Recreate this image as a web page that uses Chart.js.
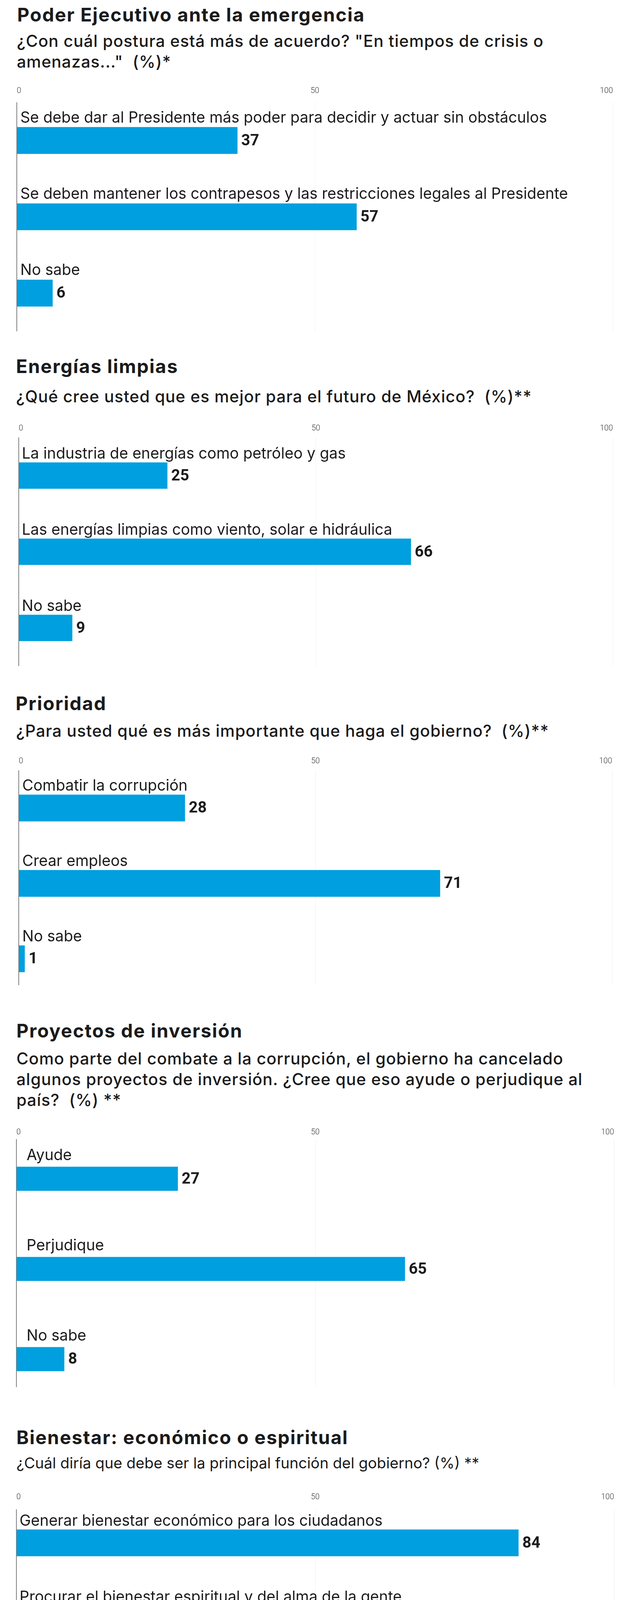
<!DOCTYPE html>
<html lang="es">
<head>
<meta charset="utf-8">
<title>Encuesta</title>
<script src="https://cdn.jsdelivr.net/npm/chart.js@4.4.1/dist/chart.umd.min.js"></script>
<style>
  body { margin: 0; background: #fff; width: 1600px; height: 4519px; position: relative; overflow: hidden; font-family: Inter, sans-serif; color: #1b1b1b; }
  .titulo { position: absolute; margin: 0; font-weight: 700; font-size: 48px; line-height: 48px; letter-spacing: 2px; white-space: nowrap; }
  .pregunta { position: absolute; margin: 0; font-weight: 500; font-size: 42px; line-height: 53px; letter-spacing: 1px; white-space: nowrap; }
  .pregunta.ligera { font-weight: 400; font-size: 38.5px; letter-spacing: 0; }
  canvas { position: absolute; left: 0; }
</style>
</head>
<body>

<h2 class="titulo" style="top:14px;left:44px">Poder Ejecutivo ante la emergencia</h2>
<p class="pregunta" style="top:78px;left:43px">¿Con cuál postura está más de acuerdo? "En tiempos de crisis o<br>amenazas..."&nbsp; (%)*</p>
<canvas id="chartPoder"></canvas>

<h2 class="titulo" style="top:914px;left:41px">Energías limpias</h2>
<p class="pregunta" style="top:988px;left:41px">¿Qué cree usted que es mejor para el futuro de México?&nbsp; (%)**</p>
<canvas id="chartEnergia"></canvas>

<h2 class="titulo" style="top:1777px;left:40px">Prioridad</h2>
<p class="pregunta" style="top:1844px;left:41px">¿Para usted qué es más importante que haga el gobierno?&nbsp; (%)**</p>
<canvas id="chartPrioridad"></canvas>

<h2 class="titulo" style="top:2615px;left:42px">Proyectos de inversión</h2>
<p class="pregunta" style="top:2683px;left:42px">Como parte del combate a la corrupción, el gobierno ha cancelado<br>algunos proyectos de inversión. ¿Cree que eso ayude o perjudique al<br>país?&nbsp; (%) **</p>
<canvas id="chartProyectos"></canvas>

<h2 class="titulo" style="top:3656px;left:42px">Bienestar: económico o espiritual</h2>
<p class="pregunta ligera" style="top:3719px;left:42px">¿Cuál diría que debe ser la principal función del gobierno? (%) **</p>
<canvas id="chartBienestar"></canvas>

<script>
// DATOS
const ticksEje = [0, 50, 100]

const categoriasPoder = [
  "Se debe dar al Presidente más poder para decidir y actuar sin obstáculos",
  "Se deben mantener los contrapesos y las restricciones legales al Presidente",
  "No sabe"
]
const valoresPoder = [37, 57, 6]

const categoriasEnergia = [
  "La industria de energías como petróleo y gas",
  "Las energías limpias como viento, solar e hidráulica",
  "No sabe"
]
const valoresEnergia = [25, 66, 9]

const categoriasPrioridad = ["Combatir la corrupción", "Crear empleos", "No sabe"]
const valoresPrioridad = [28, 71, 1]

const categoriasProyectos = ["Ayude", "Perjudique", "No sabe"]
const valoresProyectos = [27, 65, 8]

const categoriasBienestar = [
  "Generar bienestar económico para los ciudadanos",
  "Procurar el bienestar espiritual y del alma de la gente",
  "No sabe"
]
const valoresBienestar = [84, 15, 1]

const azul = "#009fdf"
const fuente = "Inter, sans-serif"

// etiquetas de categoría encima de cada barra y valor al final
const etiquetasBarras = {
  id: "etiquetasBarras",
  afterDatasetsDraw(chart, args, opts) {
    const ctx = chart.ctx
    const meta = chart.getDatasetMeta(0)
    const area = chart.chartArea
    ctx.save()
    meta.data.forEach((barra, i) => {
      const { x, y, height } = barra.getProps(["x", "y", "height"], true)
      ctx.fillStyle = "#1b1b1b"
      ctx.textAlign = "left"
      ctx.textBaseline = "alphabetic"
      ctx.font = `400 39px ${fuente}`
      ctx.fillText(opts.categorias[i], area.left + opts.sangria, y - height / 2 - opts.separacion)
      ctx.font = `700 40px Roboto, sans-serif`
      ctx.textBaseline = "middle"
      ctx.fillText(String(opts.valores[i]), x + 10, y + 2)
    })
    ctx.restore()
  }
}

function crearGrafico(id, categorias, valores, disp) {
  const canvas = document.getElementById(id)
  const altoEje = 24 + disp.pad
  const arriba = disp.ejeArriba - altoEje
  canvas.style.top = arriba + "px"
  canvas.width = 1600
  canvas.height = disp.ejeAbajo - arriba
  canvas.style.width = "1600px"
  canvas.style.height = canvas.height + "px"

  const dados = {
    labels: categorias,
    datasets: [{
      data: valores.map((v, i) => ({ x: v, y: i })),
      backgroundColor: azul,
      borderWidth: 0,
      barThickness: disp.grosor
    }]
  }

  const config = {
    type: "bar",
    data: dados,
    options: {
      indexAxis: "y",
      responsive: false,
      animation: false,
      devicePixelRatio: 1,
      layout: { padding: { left: disp.izq, right: 1600 - disp.der, top: 0, bottom: 0 } },
      plugins: {
        legend: { display: false },
        tooltip: { enabled: false },
        etiquetasBarras: { categorias: categorias, valores: valores, sangria: disp.sangria, separacion: disp.sep }
      },
      scales: {
        x: {
          type: "linear",
          position: "top",
          min: 0,
          max: 100,
          afterBuildTicks: (eje) => { eje.ticks = ticksEje.map(v => ({ value: v })) },
          afterFit: (eje) => { eje.height = altoEje },
          border: { display: false },
          grid: {
            drawTicks: false,
            color: (c) => c.tick && c.tick.value === 0 ? "#808080" : "#efefef",
            lineWidth: (c) => c.tick && c.tick.value === 0 ? 2 : 1
          },
          ticks: {
            align: "inner",
            padding: disp.pad,
            color: "#333",
            font: { family: "Roboto, sans-serif", size: 20, weight: 300 }
          }
        },
        y: {
          type: "linear",
          reverse: true,
          offset: false,
          bounds: "data",
          grid: { offset: false },
          min: disp.yMin,
          max: disp.yMax,
          display: false
        }
      }
    },
    plugins: [etiquetasBarras]
  }

  return new Chart(canvas, config)
}

crearGrafico("chartPoder", categoriasPoder, valoresPoder,
  { ejeArriba: 262, ejeAbajo: 848, izq: 43, der: 1569, pad: 17, yMin: -0.5, yMax: 2.5, grosor: 68, sangria: 9, sep: 12 })
crearGrafico("chartEnergia", categoriasEnergia, valoresEnergia,
  { ejeArriba: 1120, ejeAbajo: 1705, izq: 48, der: 1569, pad: 11, yMin: -0.5, yMax: 2.5, grosor: 67, sangria: 8, sep: 10 })
crearGrafico("chartPrioridad", categoriasPrioridad, valoresPrioridad,
  { ejeArriba: 1972, ejeAbajo: 2522, izq: 48, der: 1567, pad: 11, yMin: -0.5, yMax: 2.35, grosor: 68, sangria: 9, sep: 10 })
crearGrafico("chartProyectos", categoriasProyectos, valoresProyectos,
  { ejeArriba: 2916, ejeAbajo: 3551, izq: 42, der: 1572, pad: 5, yMin: -0.44, yMax: 2.31, grosor: 61, sangria: 26, sep: 17 })
crearGrafico("chartBienestar", categoriasBienestar, valoresBienestar,
  { ejeArriba: 3864, ejeAbajo: 4435, izq: 42, der: 1572, pad: 19, yMin: -0.44, yMax: 2.49, grosor: 68, sangria: 8, sep: 10 })
</script>
</body>
</html>
